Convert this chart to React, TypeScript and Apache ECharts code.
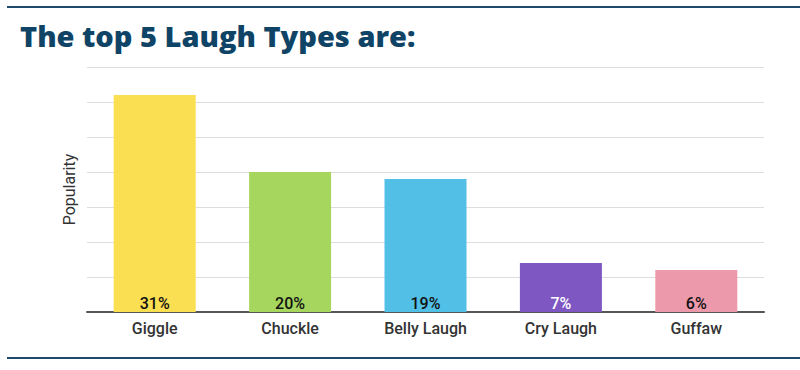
import React, { useEffect, useRef } from "react";
import * as echarts from "echarts";

const categories = ["Giggle", "Chuckle", "Belly Laugh", "Cry Laugh", "Guffaw"];
const values = [31, 20, 19, 7, 6];
const barColors = ["#fbdf52", "#a6d65e", "#52bfe6", "#7e57c2", "#ec9aab"];
const labelColors = ["#111111", "#111111", "#111111", "#ffffff", "#111111"];
const titleText = "The top 5 Laugh Types are:";
const yAxisName = "Popularity";

export default function App() {
  const ref = useRef<HTMLDivElement>(null);
  useEffect(() => {
    if (!ref.current) return;
    const chart = echarts.init(ref.current, undefined, { renderer: "svg" });
    chart.setOption({
      animation: false,
      backgroundColor: "#ffffff",
      title: {
        text: titleText,
        left: 15,
        top: 16,
        textStyle: {
          fontFamily: "Open Sans",
          fontWeight: 800,
          fontSize: 29,
          color: "#0f4466",
        },
      },
      graphic: [
        { type: "line", shape: { x1: 7, y1: 7, x2: 800, y2: 7 }, style: { stroke: "#1c4b6c", lineWidth: 2 } },
        { type: "line", shape: { x1: 7, y1: 358, x2: 800, y2: 358 }, style: { stroke: "#1c4b6c", lineWidth: 2 } },
      ],
      grid: { left: 87, right: 36, top: 67, bottom: 58, containLabel: false },
      xAxis: {
        type: "category",
        data: categories,
        axisLine: { lineStyle: { color: "#555555", width: 2 } },
        axisTick: { show: false },
        axisLabel: { fontFamily: "Roboto", fontWeight: 500, fontSize: 16, color: "#333333", margin: 8 },
      },
      yAxis: {
        type: "value",
        min: 0,
        max: 35,
        interval: 5,
        name: yAxisName,
        nameLocation: "middle",
        nameGap: 10,
        nameTextStyle: { fontFamily: "Roboto", fontSize: 16, color: "#333333" },
        axisLabel: { show: false },
        axisLine: { show: false },
        axisTick: { show: false },
        splitLine: { lineStyle: { color: "#dddddd", width: 1 } },
      },
      series: [
        {
          type: "bar",
          barWidth: 82,
          data: values.map((v, i) => ({
            value: v,
            itemStyle: { color: barColors[i] },
            label: { color: labelColors[i] },
          })),
          label: {
            show: true,
            position: "insideBottom",
            distance: 1,
            formatter: "{c}%",
            fontFamily: "Roboto",
            fontWeight: 500,
            fontSize: 16,
          },
        },
      ],
    });
    return () => chart.dispose();
  }, []);
  return (
    <div
      ref={ref}
      style={{ position: "fixed", left: 0, top: 0, width: 800, height: 370 }}
    />
  );
}
